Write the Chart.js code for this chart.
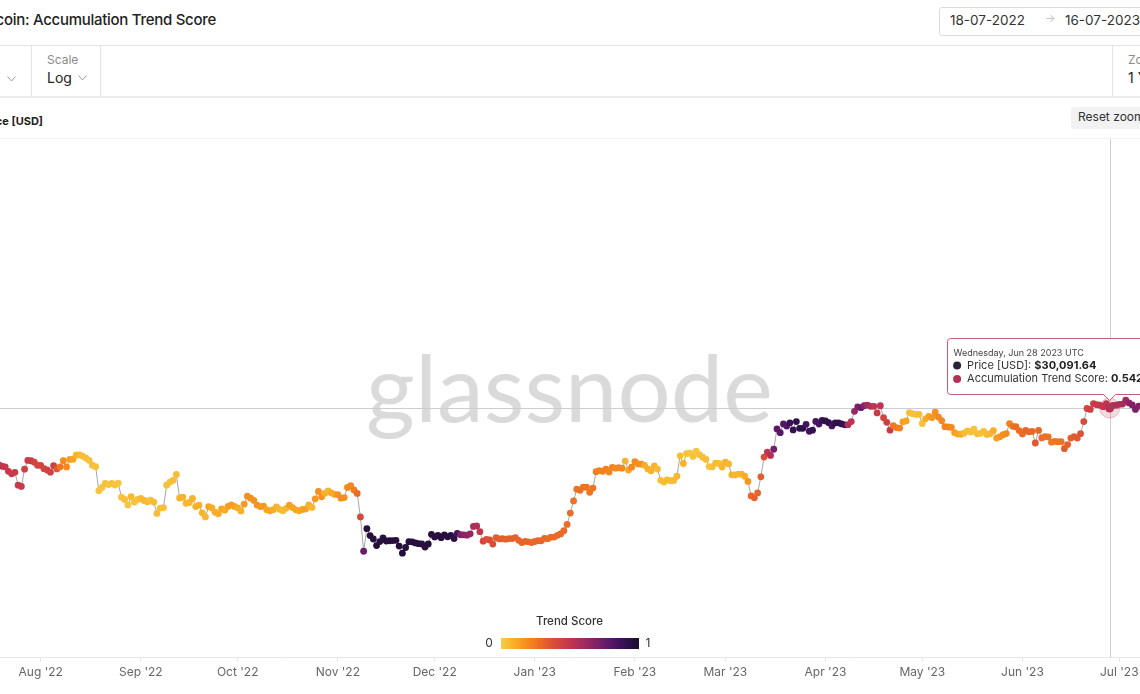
<!DOCTYPE html>
<html>
<head>
<meta charset="utf-8">
<title>Bitcoin: Accumulation Trend Score</title>
<script src="https://cdn.jsdelivr.net/npm/chart.js@4.4.1/dist/chart.umd.min.js"></script>
<style>
  html, body { margin: 0; padding: 0; background: #fff; }
  body { width: 1140px; height: 694px; position: relative; overflow: hidden; font-family: Inter, "Noto Sans", sans-serif; color: #222; }
  .abs { position: absolute; white-space: nowrap; line-height: 1.2; }
  .hline { position: absolute; left: 0; width: 1140px; height: 1px; background: #e4e4e4; }
  .vline { position: absolute; top: 46px; width: 1px; height: 50px; background: #e4e4e4; }
  .lbl { font-size: 12px; color: #8c8c8c; }
  .val { font-size: 14px; color: #222; }
  .chev { margin-left: 6px; vertical-align: 2px; }
</style>
</head>
<body>
<div class="abs" style="left:-200px;width:416px;top:11px;text-align:right;font-size:15px;font-weight:500;letter-spacing:-0.28px;">Bitcoin: Accumulation Trend Score</div>
<div class="abs" style="left:939px;top:7px;width:220px;height:27px;border:1px solid #dcdcdc;border-radius:3px;"></div>
<div class="abs" style="left:950px;top:12px;font-size:13.5px;color:#333;">18-07-2022</div>
<div class="abs" style="left:1045px;top:12px;font-size:11px;color:#c4c4c4;">→</div>
<div class="abs" style="left:1065px;top:12px;font-size:13.5px;color:#333;">16-07-2023</div>
<div class="hline" style="top:45px;"></div>
<div class="vline" style="left:31px;"></div>
<div class="vline" style="left:100px;"></div>
<div class="vline" style="left:1112px;"></div>
<svg class="abs" style="left:7px;top:76px;" width="9" height="6" viewBox="0 0 9 6"><polyline points="0.5,0.5 4.5,5 8.5,0.5" fill="none" stroke="#9a9a9a" stroke-width="1"/></svg>
<div class="abs lbl" style="left:47px;top:53px;">Scale</div>
<div class="abs val" style="left:47px;top:70px;">Log<svg class="chev" width="9" height="6" viewBox="0 0 9 6"><polyline points="0.5,0.5 4.5,5 8.5,0.5" fill="none" stroke="#9a9a9a" stroke-width="1"/></svg></div>
<div class="abs lbl" style="left:1128px;top:53px;">Zoom</div>
<div class="abs val" style="left:1128px;top:70px;">1 Year</div>
<div class="hline" style="top:96px;height:2px;background:#ececec;"></div>
<div class="abs" style="left:-100px;width:143px;text-align:right;top:115px;font-size:11px;font-weight:700;">Price [USD]</div>
<div class="abs" style="left:1071px;top:107px;width:90px;height:22px;background:#f2f2f2;border-radius:3px;"></div>
<div class="abs" style="left:1078px;top:110px;font-size:12px;color:#333;">Reset zoom</div>
<div class="hline" style="top:138px;background:#f3f3f3;"></div>
<canvas id="chart" width="1140" height="555" style="position:absolute;left:0;top:139px;"></canvas>

<script>
// daily series, first value is 18 Jul 2022
const startDate = '2022-07-18';

// BTC price [USD], one value per day
const prices = [
  // Jul '22 (18-31)
  22485, 23389, 23231, 23164, 22714, 22465, 22609, 21361, 21239, 22930, 23843, 23804, 23656, 23336,
  // Aug '22
  23314, 22978, 22846, 22630, 23289, 22961, 23175, 23810, 23164, 23947, 23957, 24403, 24442, 24305, 24094, 23854,
  23342, 23191, 20834, 21140, 21517, 21416, 21529, 21368, 21560, 20241, 20037, 19555, 20285, 19812, 20050,
  // Sep '22
  20131, 19951, 19832, 19986, 19812, 18837, 19291, 19319, 21361, 21651, 21826, 22395, 20173, 20241, 19702,
  19773, 20127, 19420, 19544, 18890, 18547, 19413, 19297, 18937, 18803, 19222, 19111, 19426, 19573, 19431,
  // Oct '22
  19312, 19044, 19623, 20337, 20160, 19955, 19546, 19416, 19446, 19141, 19051, 19157, 19382, 19185, 19067, 19268,
  19550, 19334, 19139, 19053, 19172, 19208, 19567, 19345, 20095, 20771, 20285, 20595, 20818, 20635, 20495,
  // Nov '22
  20485, 20159, 20209, 21148, 21300, 20905, 20591, 18547, 15922, 17601, 17070, 16812, 16330, 16619, 16900,
  16662, 16680, 16697, 16711, 16291, 15787, 16190, 16610, 16604, 16521, 16464, 16444, 16217, 16444, 17168,
  // Dec '22
  16967, 17089, 16909, 17130, 16974, 17089, 16848, 17234, 17133, 17128, 17104, 17206, 17782, 17816, 17365, 16648,
  16777, 16738, 16439, 16906, 16818, 16830, 16796, 16847, 16841, 16919, 16717, 16552, 16642, 16602, 16547,
  // Jan '23
  16625, 16688, 16680, 16863, 16836, 16951, 16955, 17091, 17196, 17446, 17934, 18869, 19909, 20976, 20880, 21169,
  21161, 20688, 21086, 22676, 22777, 22721, 22934, 22636, 23117, 23032, 23078, 23031, 23774, 22840, 23139,
  // Feb '23
  23723, 23471, 23449, 23331, 22955, 22760, 23264, 22939, 21819, 21651, 21870, 21788, 21808, 22221,
  24330, 23517, 24570, 24632, 24272, 24845, 24453, 24189, 23947, 23199, 23175, 23562, 23522, 23147,
  // Mar '23
  23646, 23475, 22362, 22354, 22435, 22429, 22219, 21718, 20363, 20187, 20633, 22163, 24198, 24746, 24375, 25052,
  27423, 26965, 28038, 27767, 28175, 27307, 28333, 27493, 27494, 27994, 27139, 27268, 28348, 28033, 28478,
  // Apr '23
  28411, 28199, 27790, 28168, 28177, 28044, 27925, 27947, 28333, 29653, 30235, 30139, 30399, 30485, 30318,
  30315, 29445, 30397, 28822, 28245, 27276, 27817, 27591, 27525, 28307, 28422, 29474, 29340, 29248, 29268,
  // May '23
  28091, 28680, 29006, 28847, 29534, 28904, 28454, 27694, 27658, 27621, 26988, 26805, 26784, 26931, 27192, 27037,
  27398, 26833, 26890, 27130, 26753, 26851, 27226, 26334, 26477, 26720, 26868, 28085, 27745, 27702, 27219,
  // Jun '23
  26819, 27249, 27075, 27119, 25760, 27238, 26346, 26508, 26480, 25851, 25940, 25903, 25918, 25124, 25576,
  26327, 26510, 26336, 26852, 28328, 30028, 29912, 30696, 30548, 30480, 30272, 30689, 30091.64, 30445, 30477,
  // Jul '23 (1-16)
  30590, 30620, 31156, 30777, 30514, 29909, 30346, 30292, 30171, 30415, 30620, 30391, 31476, 30334, 30295, 30249
];

// Accumulation Trend Score (0..1), one value per day
const scores = [
  0.5, 0.5, 0.5, 0.49, 0.49, 0.48, 0.48, 0.48, 0.48, 0.44, 0.47, 0.47, 0.43, 0.42,
  0.42, 0.42, 0.43, 0.44, 0.45, 0.35, 0.25, 0.2, 0.2, 0.14, 0.12, 0.08, 0.07, 0.05, 0.05, 0.04,
  0.04, 0.04, 0.03, 0.03, 0.04, 0.03, 0.04, 0.03, 0.03, 0.03, 0.04, 0.03, 0.06, 0.04, 0.04,
  0.06, 0.07, 0.06, 0.05, 0.06, 0.05, 0.04, 0.04, 0.04, 0.04, 0.05, 0.05, 0.08, 0.08, 0.07,
  0.07, 0.08, 0.09, 0.09, 0.08, 0.07, 0.12, 0.1, 0.09, 0.1, 0.12, 0.1, 0.13, 0.14, 0.13,
  0.1, 0.09, 0.15, 0.18, 0.18, 0.17, 0.17, 0.16, 0.16, 0.12, 0.12, 0.1, 0.08, 0.07, 0.06, 0.07,
  0.13, 0.12, 0.12, 0.11, 0.13, 0.13, 0.08, 0.07, 0.16, 0.18, 0.17, 0.09, 0.07, 0.1, 0.11,
  0.17, 0.18, 0.18, 0.2, 0.2, 0.23, 0.28, 0.4, 0.75, 0.95, 0.96, 0.95, 0.97, 0.95, 0.94,
  0.96, 0.95, 0.96, 0.95, 0.97, 0.96, 0.95, 0.94, 0.96, 0.95, 0.96, 0.95, 0.94, 0.96, 0.95,
  0.95, 0.94, 0.96, 0.95, 0.94, 0.95, 0.93, 0.85, 0.7, 0.67, 0.65, 0.63, 0.58, 0.56, 0.5, 0.42,
  0.38, 0.38, 0.38, 0.33, 0.33, 0.33, 0.32, 0.32, 0.32, 0.32, 0.31, 0.31, 0.31, 0.31, 0.3,
  0.3, 0.3, 0.3, 0.3, 0.29, 0.29, 0.29, 0.29, 0.29, 0.29, 0.28, 0.28, 0.27, 0.27, 0.27, 0.27,
  0.26, 0.26, 0.26, 0.23, 0.22, 0.22, 0.22, 0.21, 0.21, 0.2, 0.2, 0.2, 0.08, 0.12, 0.2,
  0.2, 0.19, 0.18, 0.1, 0.09, 0.08, 0.08, 0.06, 0.05, 0.05, 0.06, 0.05, 0.06, 0.07,
  0.05, 0.08, 0.04, 0.03, 0.04, 0.03, 0.04, 0.05, 0.05, 0.04, 0.04, 0.06, 0.05, 0.07,
  0.08, 0.07, 0.08, 0.07, 0.07, 0.08, 0.1, 0.16, 0.3, 0.32, 0.3, 0.33, 0.38, 0.5, 0.55, 0.72,
  0.78, 0.8, 0.8, 0.82, 0.88, 0.9, 0.92, 0.93, 0.93, 0.85, 0.85, 0.9, 0.83, 0.84, 0.9,
  0.92, 0.92, 0.85, 0.92, 0.93, 0.92, 0.88, 0.55, 0.52, 0.62, 0.7, 0.75, 0.68, 0.6, 0.55,
  0.52, 0.48, 0.52, 0.42, 0.45, 0.48, 0.25, 0.24, 0.22, 0.14, 0.12, 0.05, 0.04, 0.04, 0.05,
  0.04, 0.1, 0.13, 0.16, 0.18, 0.2, 0.2, 0.22, 0.22, 0.2, 0.14, 0.12, 0.1, 0.06, 0.05, 0.05,
  0.04, 0.05, 0.04, 0.05, 0.06, 0.07, 0.1, 0.14, 0.16, 0.18, 0.2, 0.22, 0.26, 0.28, 0.28,
  0.29, 0.3, 0.3, 0.3, 0.35, 0.3, 0.28, 0.27, 0.27, 0.25, 0.25, 0.26, 0.27, 0.33, 0.32,
  0.32, 0.33, 0.34, 0.36, 0.4, 0.42, 0.45, 0.46, 0.48, 0.49, 0.5, 0.52, 0.542, 0.55, 0.56,
  0.57, 0.58, 0.6, 0.65, 0.68, 0.7, 0.68, 0.66, 0.65, 0.64, 0.63, 0.62, 0.6, 0.6, 0.61, 0.62
];

const tickDates = ['2022-08-01', '2022-09-01', '2022-10-01', '2022-11-01', '2022-12-01', '2023-01-01',
  '2023-02-01', '2023-03-01', '2023-04-01', '2023-05-01', '2023-06-01', '2023-07-01'];
const tickLabels = ["Aug '22", "Sep '22", "Oct '22", "Nov '22", "Dec '22", "Jan '23",
  "Feb '23", "Mar '23", "Apr '23", "May '23", "Jun '23", "Jul '23"];

// colour scale of the trend score (0 = yellow, 1 = dark purple)
const scoreStops = [[0, '#f6cf45'], [0.12, '#f8a521'], [0.25, '#f0771f'], [0.38, '#dc4d37'],
  [0.5, '#c2364e'], [0.62, '#9a2862'], [0.74, '#6c1d6c'], [0.86, '#3f1260'], [1, '#1b0e2c']];

const hoverDate = '2023-06-28';
const viewDays = [1.39, 354.41];     // visible part of the year in the screenshot
const priceRange = [9950, 99500];    // log axis bounds (axis itself is cropped off)

const dayOf = s => Math.round((Date.parse(s) - Date.parse(startDate)) / 86400000);
const tickDays = tickDates.map(dayOf);
const hoverIdx = dayOf(hoverDate);

function hex2rgb(h) {
  return [1, 3, 5].map(k => parseInt(h.substr(k, 2), 16));
}
function scoreColor(s) {
  for (let k = 1; k < scoreStops.length; k++) {
    if (s <= scoreStops[k][0]) {
      const [s0, c0] = scoreStops[k - 1], [s1, c1] = scoreStops[k];
      const t = (s - s0) / (s1 - s0);
      const a = hex2rgb(c0), b = hex2rgb(c1);
      return 'rgb(' + a.map((v, j) => Math.round(v + (b[j] - v) * t)).join(',') + ')';
    }
  }
  return scoreStops[scoreStops.length - 1][1];
}

const watermark = {
  id: 'watermark',
  beforeDatasetsDraw(chart) {
    const c = chart.ctx;
    c.save();
    c.font = '400 94px Lato';
    const size = 94 * 407 / c.measureText('glassnode').width;
    c.font = '400 ' + size + 'px Lato';
    c.fillStyle = '#dadada';
    c.textAlign = 'center';
    c.fillText('glassnode', 569.5, 283);
    // crosshair
    const area = chart.chartArea;
    const px = Math.round(chart.scales.x.getPixelForValue(hoverIdx)) + 0.5;
    const py = Math.round(chart.scales.y.getPixelForValue(prices[hoverIdx])) + 0.5;
    c.strokeStyle = '#cdcdcd';
    c.lineWidth = 1;
    c.beginPath();
    c.moveTo(px, area.top); c.lineTo(px, area.bottom);
    c.moveTo(area.left, py); c.lineTo(area.right, py);
    c.stroke();
    c.restore();
  }
};

const overlay = {
  id: 'overlay',
  afterDraw(chart) {
    const c = chart.ctx;
    const px = chart.scales.x.getPixelForValue(hoverIdx);
    const py = chart.scales.y.getPixelForValue(prices[hoverIdx]);
    const col = scoreColor(scores[hoverIdx]);
    c.save();
    // hovered point
    c.beginPath(); c.arc(px, py, 10, 0, Math.PI * 2);
    c.fillStyle = 'rgba(194,54,78,0.18)'; c.fill();
    c.strokeStyle = 'rgba(194,54,78,0.3)'; c.lineWidth = 1; c.stroke();
    c.beginPath(); c.arc(px, py, 4.5, 0, Math.PI * 2);
    c.fillStyle = col; c.fill();

    // tooltip
    const bx = Math.round(px - 163) + 0.5, by = Math.round(py - 70) + 0.5, bw = 220, bh = 56;
    c.beginPath();
    c.moveTo(bx + 3, by);
    c.lineTo(bx + bw, by);
    c.lineTo(bx + bw, by + bh);
    c.lineTo(px + 6, by + bh);
    c.lineTo(px, by + bh + 6);
    c.lineTo(px - 6, by + bh);
    c.lineTo(bx + 3, by + bh);
    c.arcTo(bx, by + bh, bx, by + bh - 3, 3);
    c.lineTo(bx, by + 3);
    c.arcTo(bx, by, bx + 3, by, 3);
    c.closePath();
    c.fillStyle = '#fff'; c.fill();
    c.strokeStyle = '#c85a72'; c.stroke();

    const d = new Date(Date.parse(startDate) + hoverIdx * 86400000);
    const title = d.toLocaleDateString('en-US', { weekday: 'long', timeZone: 'UTC' }) + ', ' +
      d.toLocaleDateString('en-US', { month: 'short', timeZone: 'UTC' }) + ' ' + d.getUTCDate() + ' ' + d.getUTCFullYear() + ' UTC';
    c.textBaseline = 'middle';
    c.font = '400 9px Inter';
    c.fillStyle = '#444';
    c.fillText(title, px - 156, py - 55);

    const rows = [
      ['#2a2238', 'Price [USD]: ', '$' + prices[hoverIdx].toLocaleString('en-US', { minimumFractionDigits: 2 })],
      [col, 'Accumulation Trend Score: ', scores[hoverIdx].toFixed(3)]
    ];
    rows.forEach((r, k) => {
      const ty = py - 42.5 + k * 13.5;
      c.beginPath(); c.arc(px - 152.5, ty, 4, 0, Math.PI * 2);
      c.fillStyle = r[0]; c.fill();
      c.font = '400 11px Inter';
      c.fillStyle = '#333';
      c.fillText(r[1], px - 142.5, ty);
      const w = c.measureText(r[1]).width;
      c.font = '700 11px Inter';
      c.fillStyle = '#222';
      c.fillText(r[2], px - 142.5 + w, ty);
    });

    // colour legend
    c.textAlign = 'center';
    c.font = '500 11.5px Inter';
    c.fillStyle = '#333';
    c.fillText('Trend Score', 569.5, 483);
    const g = c.createLinearGradient(501, 0, 639, 0);
    scoreStops.forEach(([s, cc]) => g.addColorStop(s, cc));
    c.fillStyle = g;
    c.fillRect(501, 499, 138, 11);
    c.font = '400 12px Inter';
    c.fillStyle = '#333';
    c.fillText('0', 489, 504.5);
    c.fillText('1', 648, 504.5);
    c.restore();
  }
};

new Chart(document.getElementById('chart'), {
  type: 'line',
  data: {
    datasets: [{
      label: 'Price [USD]',
      data: prices.map((p, i) => ({ x: i, y: p })),
      borderColor: '#a6a6a6',
      borderWidth: 1,
      tension: 0,
      pointRadius: 3.4,
      pointBorderWidth: 0,
      pointBackgroundColor: scores.map(scoreColor)
    }]
  },
  options: {
    responsive: false,
    animation: false,
    events: [],
    layout: { padding: 0, autoPadding: false },
    plugins: { legend: { display: false }, tooltip: { enabled: false } },
    scales: {
      x: {
        type: 'linear',
        bounds: 'data',
        min: viewDays[0],
        max: viewDays[1],
        grid: { drawOnChartArea: false, drawTicks: true, tickLength: 5, color: '#e6e6e6' },
        border: { color: '#e6e6e6' },
        ticks: {
          autoSkip: false, maxRotation: 0, padding: 3,
          color: '#666', font: { family: 'Inter', size: 12 },
          callback: (v, i) => tickLabels[i]
        },
        afterBuildTicks: s => { s.ticks = tickDays.map(v => ({ value: v })); },
        afterFit: s => { s.height = 37; s.paddingLeft = 0; s.paddingRight = 0; }
      },
      y: {
        type: 'logarithmic',
        bounds: 'data',
        min: priceRange[0],
        max: priceRange[1],
        display: false
      }
    }
  },
  plugins: [watermark, overlay]
});
</script>
</body>
</html>
